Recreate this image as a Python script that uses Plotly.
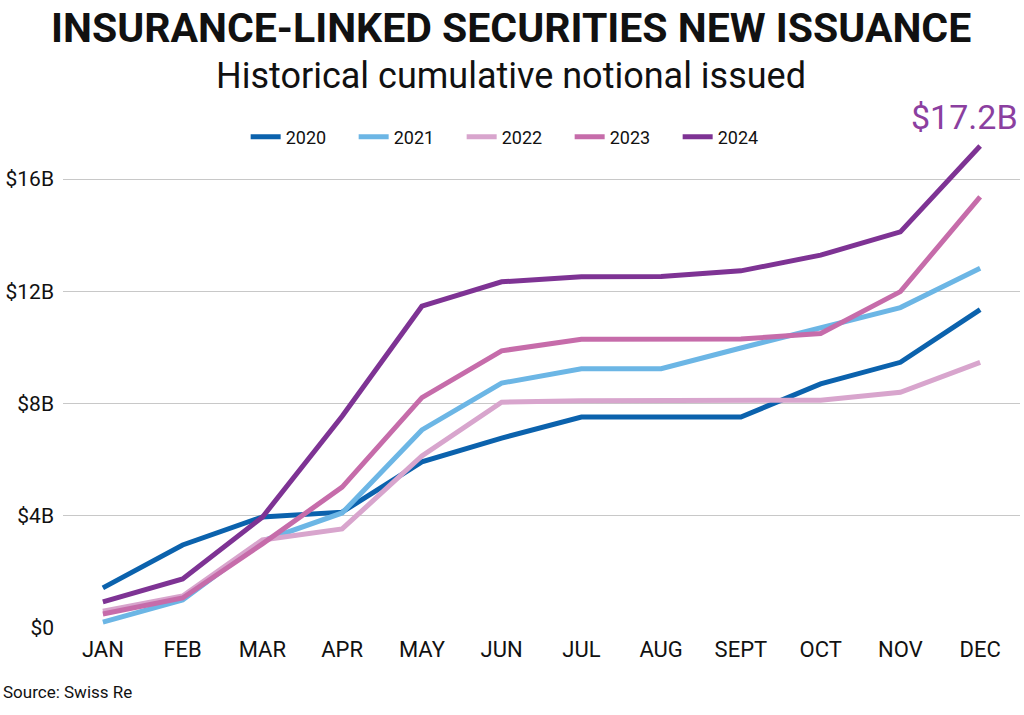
import plotly.graph_objects as go

months = ["JAN", "FEB", "MAR", "APR", "MAY", "JUN", "JUL", "AUG", "SEPT", "OCT", "NOV", "DEC"]
y2020 = [1.43, 2.96, 3.96, 4.13, 5.92, 6.77, 7.52, 7.52, 7.52, 8.70, 9.47, 11.35]
y2021 = [0.21, 1.00, 3.10, 4.10, 7.06, 8.73, 9.24, 9.24, 9.98, 10.72, 11.42, 12.82]
y2022 = [0.60, 1.14, 3.14, 3.53, 6.13, 8.05, 8.10, 8.10, 8.10, 8.12, 8.40, 9.47]
y2023 = [0.50, 1.07, 3.00, 5.02, 8.21, 9.88, 10.29, 10.29, 10.30, 10.50, 11.99, 15.37]
y2024 = [0.93, 1.75, 3.95, 7.55, 11.47, 12.34, 12.52, 12.53, 12.73, 13.29, 14.12, 17.18]
series = [("2020", y2020, "#0B62AD"), ("2021", y2021, "#6CB6E5"),
          ("2022", y2022, "#D8A5CD"), ("2023", y2023, "#C66CAA"),
          ("2024", y2024, "#7E3394")]
yticks = [0, 4, 8, 12, 16]
ytick_text = ["$0", "$4B", "$8B", "$12B", "$16B"]
title = "INSURANCE-LINKED SECURITIES NEW ISSUANCE"
subtitle = "Historical cumulative notional issued"
source = "Source: Swiss Re"
end_label = "$17.2B"

FONT = "Roboto, Liberation Sans, sans-serif"
INK = "#111111"

fig = go.Figure()
for name, ys, col in series:
    fig.add_trace(go.Scatter(x=months, y=ys, name=name, mode="lines",
                             line=dict(color=col, width=5)))

fig.update_layout(
    width=1024, height=715,
    margin=dict(l=63, r=4, t=123, b=87, autoexpand=False),
    paper_bgcolor="white", plot_bgcolor="white",
    font=dict(family=FONT, color=INK, size=20),
    showlegend=True,
    legend=dict(orientation="h", x=0.473, xanchor="center", y=0.972, yanchor="middle",
                font=dict(size=18, family=FONT, color=INK), traceorder="normal",
                entrywidth=63, entrywidthmode="pixels",
                bgcolor="rgba(0,0,0,0)"),
    xaxis=dict(type="category", range=[-0.5, 11.5], showgrid=False, showline=False,
               ticks="", ticklabelstandoff=6,
               tickfont=dict(size=22, family=FONT, color=INK)),
    yaxis=dict(range=[0, 18], tickvals=yticks, ticktext=ytick_text, showgrid=True,
               gridcolor="#c8c8c8", gridwidth=1, zeroline=False, showline=False,
               ticks="", ticklabelstandoff=8,
               tickfont=dict(size=21, family=FONT, color=INK)),
)

fig.add_annotation(text="<b>" + title + "</b>", xref="paper", yref="paper",
                   x=0.468, xanchor="center", y=1.188, yanchor="middle",
                   showarrow=False, font=dict(size=41, family=FONT, color=INK))
fig.add_annotation(text=subtitle, xref="paper", yref="paper",
                   x=0.468, xanchor="center", y=1.093, yanchor="middle",
                   showarrow=False, font=dict(size=36, family=FONT, color=INK))
fig.add_annotation(text=source, xref="paper", yref="paper",
                   x=-0.065, xanchor="left", y=-0.127, yanchor="middle",
                   showarrow=False, font=dict(size=17, family=FONT, color=INK))
fig.add_annotation(text=end_label, xref="paper", yref="paper",
                   x=1.0, xanchor="right", y=1.012, yanchor="middle", showarrow=False,
                   font=dict(size=34, family=FONT, color="#8B3FA0"))

fig.write_html("out.html", config={"displayModeBar": False},
               post_script="document.body.style.margin='0';")
